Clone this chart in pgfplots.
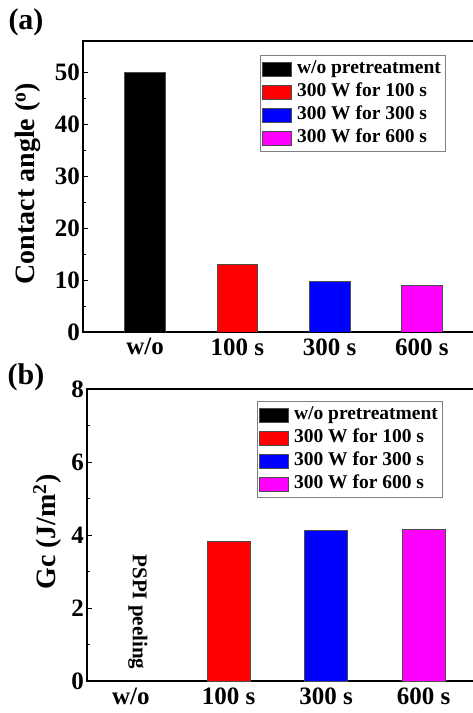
\documentclass[border=0pt]{standalone}
\usepackage{fontspec}
\setmainfont{Liberation Serif}
\usepackage{pgfplots}
\pgfplotsset{compat=1.18}
\definecolor{mag}{RGB}{255,0,255}
\pgfplotsset{
 panel/.style={
  scale only axis, ybar, bar width=0.44, bar shift=0pt,
  xtick={0,1,2,3}, xticklabels={w/o,100 s,300 s,600 s},
  tick align=inside, major x tick style={draw=none},
  minor y tick num=1, major tick length=5pt, minor tick length=3pt,
  axis line style={line width=1.6pt},
  every tick/.style={line width=1pt,black},
  /pgf/number format/assume math mode=true,
  xticklabel style={font=\fontsize{25}{30}\selectfont\bfseries,yshift=-3pt},
  yticklabel style={font=\fontsize{25}{30}\selectfont\bfseries,inner xsep=3pt},
  ylabel style={font=\fontsize{28}{32}\selectfont\bfseries,rotate=0,anchor=center},
  legend cell align=left,
  legend style={anchor=north west,draw=gray,line width=0.8pt,fill=white,
   font=\fontsize{19.5}{22}\selectfont\bfseries,inner sep=2pt,row sep=0pt,
   nodes={inner sep=2.5pt,text height=13.5pt,text depth=4.5pt},
   /tikz/every odd column/.append style={column sep=3pt}},
  every axis plot post/.append style={draw=black!70,line width=0.5pt,
   legend image code/.code={\draw[##1,line width=0.5pt] (0pt,-7pt) rectangle (29pt,7pt);}},
 }}
\begin{document}
\begin{tikzpicture}
\useasboundingbox (0pt,0pt) rectangle (472pt,713pt);
\node[font=\fontsize{30}{34}\selectfont\bfseries] at (26pt,691pt) {(a)};
\node[font=\fontsize{30}{34}\selectfont\bfseries] at (26pt,336pt) {(b)};
\begin{axis}[panel, at={(83pt,381pt)}, anchor=south west, width=407pt, height=291pt,
 xmin=-0.672, xmax=3.737, ymin=0, ymax=56, ytick={0,10,20,30,40,50},
 ylabel={Contact angle (\textsuperscript{o})},
 ylabel style={at={(axis description cs:-0.135,0.51)}},
 legend style={at={(axis description cs:0.434,0.952)}}]
\addplot[fill=black] coordinates {(0,50.0)};
\addplot[fill=red] coordinates {(1,13.0)};
\addplot[fill=blue] coordinates {(2,9.7)};
\addplot[fill=mag] coordinates {(3,9.0)};
\legend{w/o pretreatment,300 W for 100 s,300 W for 300 s,300 W for 600 s}
\end{axis}
\begin{axis}[panel, at={(87pt,32pt)}, anchor=south west, width=403pt, height=292pt,
 xmin=-0.45, xmax=3.679, ymin=0, ymax=8, ytick={0,2,4,6,8},
 ylabel={Gc (J/m\textsuperscript{2})},
 ylabel style={at={(axis description cs:-0.099,0.51)}},
 legend style={at={(axis description cs:0.421,0.959)}}]
\addlegendimage{fill=black,draw=black!70}
\addlegendentry{w/o pretreatment}
\addplot[fill=red] coordinates {(1,3.82)};
\addlegendentry{300 W for 100 s}
\addplot[fill=blue] coordinates {(2,4.12)};
\addlegendentry{300 W for 300 s}
\addplot[fill=mag] coordinates {(3,4.17)};
\addlegendentry{300 W for 600 s}
\node[rotate=-90,font=\fontsize{21}{24}\selectfont\bfseries] at (axis cs:0.07,1.89) {PSPI peeling};
\end{axis}
\end{tikzpicture}
\end{document}
